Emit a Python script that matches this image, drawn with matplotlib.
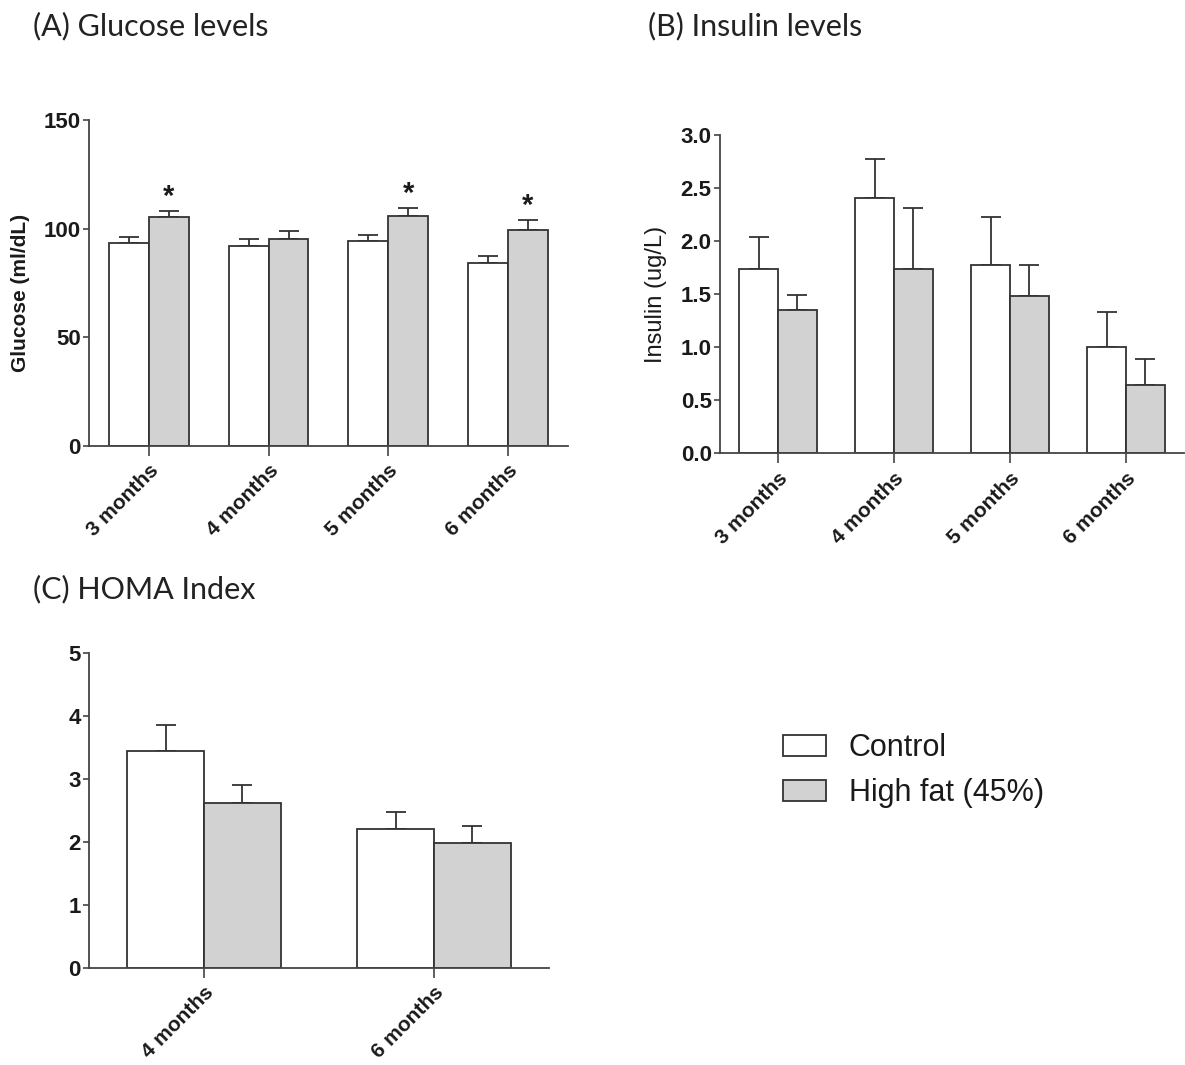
import numpy as np
import matplotlib
matplotlib.use("Agg")
import matplotlib.pyplot as plt
from matplotlib.patches import Patch

plt.rcParams["font.family"] = ["Liberation Sans", "DejaVu Sans"]

# Glucose (mg/dL), mean and SEM per time point
glucose_months = ["3 months", "4 months", "5 months", "6 months"]
glucose_control = [93.5, 92.0, 94.2, 84.1]
glucose_control_sem = [2.5, 3.4, 2.9, 3.5]
glucose_highfat = [105.4, 95.1, 106.0, 99.4]
glucose_highfat_sem = [2.9, 3.8, 3.4, 4.6]
glucose_signif = [True, False, True, True]

# Insulin (ug/L)
insulin_months = ["3 months", "4 months", "5 months", "6 months"]
insulin_control = [1.74, 2.41, 1.77, 1.00]
insulin_control_sem = [0.30, 0.36, 0.46, 0.33]
insulin_highfat = [1.35, 1.74, 1.48, 0.64]
insulin_highfat_sem = [0.14, 0.57, 0.29, 0.25]

# HOMA index
homa_months = ["4 months", "6 months"]
homa_control = [3.45, 2.21]
homa_control_sem = [0.40, 0.27]
homa_highfat = [2.62, 1.99]
homa_highfat_sem = [0.28, 0.27]

FILL_CONTROL = "white"
FILL_HF = "#d2d2d2"
EDGE = "#333333"
TEXT = "#1a1a1a"
BAR_W = 0.333


def bar_panel(ax, labels, ctrl, ctrl_sem, hf, hf_sem, ymax, yticks, ytick_fmt):
    x = np.arange(len(labels))
    for offset, vals, sem, fill in [(-BAR_W / 2, ctrl, ctrl_sem, FILL_CONTROL),
                                    (BAR_W / 2, hf, hf_sem, FILL_HF)]:
        ax.errorbar(x + offset, vals, yerr=[np.zeros(len(vals)), sem], fmt="none",
                    ecolor=EDGE, elinewidth=1.3, capsize=7, capthick=1.3, zorder=1)
        ax.bar(x + offset, vals, width=BAR_W, color=fill, edgecolor=EDGE,
               linewidth=1.3, zorder=2)

    ax.set_xlim(-0.5, len(labels) - 0.5)
    ax.set_ylim(0, ymax)
    ax.set_yticks(yticks)
    ax.set_yticklabels([ytick_fmt.format(t) for t in yticks])
    ax.set_xticks(x)
    ax.set_xticklabels(labels, rotation=45, ha="right", va="top",
                       rotation_mode="anchor")

    for side in ["top", "right"]:
        ax.spines[side].set_visible(False)
    for side in ["left", "bottom"]:
        ax.spines[side].set_color("#444444")
        ax.spines[side].set_linewidth(1.3)

    ax.tick_params(axis="y", direction="out", length=4, width=1.2, color="#444444",
                   labelsize=16, labelcolor=TEXT, pad=2)
    ax.tick_params(axis="x", direction="out", length=7, width=1.2, color="#444444",
                   labelsize=15, labelcolor=TEXT, pad=4)
    for lab in ax.get_xticklabels() + ax.get_yticklabels():
        lab.set_fontweight("bold")
    return x


fig = plt.figure(figsize=(11.85, 10.65), dpi=100)

# (A) glucose
ax_a = fig.add_axes([0.0751, 0.5812, 0.4042, 0.3061])
xa = bar_panel(ax_a, glucose_months, glucose_control, glucose_control_sem,
               glucose_highfat, glucose_highfat_sem, 150, [0, 50, 100, 150], "{:g}")
ax_a.set_ylabel("Glucose (ml/dL)", fontsize=15, fontweight="bold", color=TEXT)
ax_a.yaxis.set_label_coords(-0.123, 0.47)
for xi, top, sem, star in zip(xa, glucose_highfat, glucose_highfat_sem, glucose_signif):
    if star:
        ax_a.annotate("*", (xi + BAR_W / 2, top + sem), xytext=(0, 0),
                      textcoords="offset points", ha="center", va="bottom",
                      fontsize=21, fontweight="bold", color=TEXT)

# (B) insulin
ax_b = fig.add_axes([0.6076, 0.5746, 0.3916, 0.2986])
bar_panel(ax_b, insulin_months, insulin_control, insulin_control_sem,
          insulin_highfat, insulin_highfat_sem, 3.0,
          [0.0, 0.5, 1.0, 1.5, 2.0, 2.5, 3.0], "{:.1f}")
ax_b.set_ylabel("Insulin (ug/L)", fontsize=17, color=TEXT)
ax_b.yaxis.set_label_coords(-0.114, 0.5)

# (C) HOMA index
ax_c = fig.add_axes([0.0751, 0.0911, 0.3882, 0.2958])
bar_panel(ax_c, homa_months, homa_control, homa_control_sem,
          homa_highfat, homa_highfat_sem, 5, [0, 1, 2, 3, 4, 5], "{:g}")

# panel titles
title_kw = dict(fontsize=22, color="#222222", family=["Lato", "DejaVu Sans"],
                va="center", ha="left")
fig.text(33 / 1185, 1 - 26 / 1065, "(A) Glucose levels", **title_kw)
fig.text(648 / 1185, 1 - 26 / 1065, "(B) Insulin levels", **title_kw)
fig.text(33 / 1185, 1 - 589 / 1065, "(C) HOMA Index", **title_kw)

# shared legend
handles = [Patch(facecolor=FILL_CONTROL, edgecolor=EDGE, linewidth=1.3),
           Patch(facecolor=FILL_HF, edgecolor=EDGE, linewidth=1.3)]
fig.legend(handles, ["Control", "High fat (45%)"], loc="upper left",
           bbox_to_anchor=(783 / 1185, 1 - 733 / 1065), frameon=False,
           fontsize=22, handlelength=1.4, handleheight=0.7,
           handletextpad=0.75, labelspacing=0.5, borderpad=0, borderaxespad=0,
           labelcolor=TEXT)

fig.savefig("out.png", dpi=100, facecolor="white")
